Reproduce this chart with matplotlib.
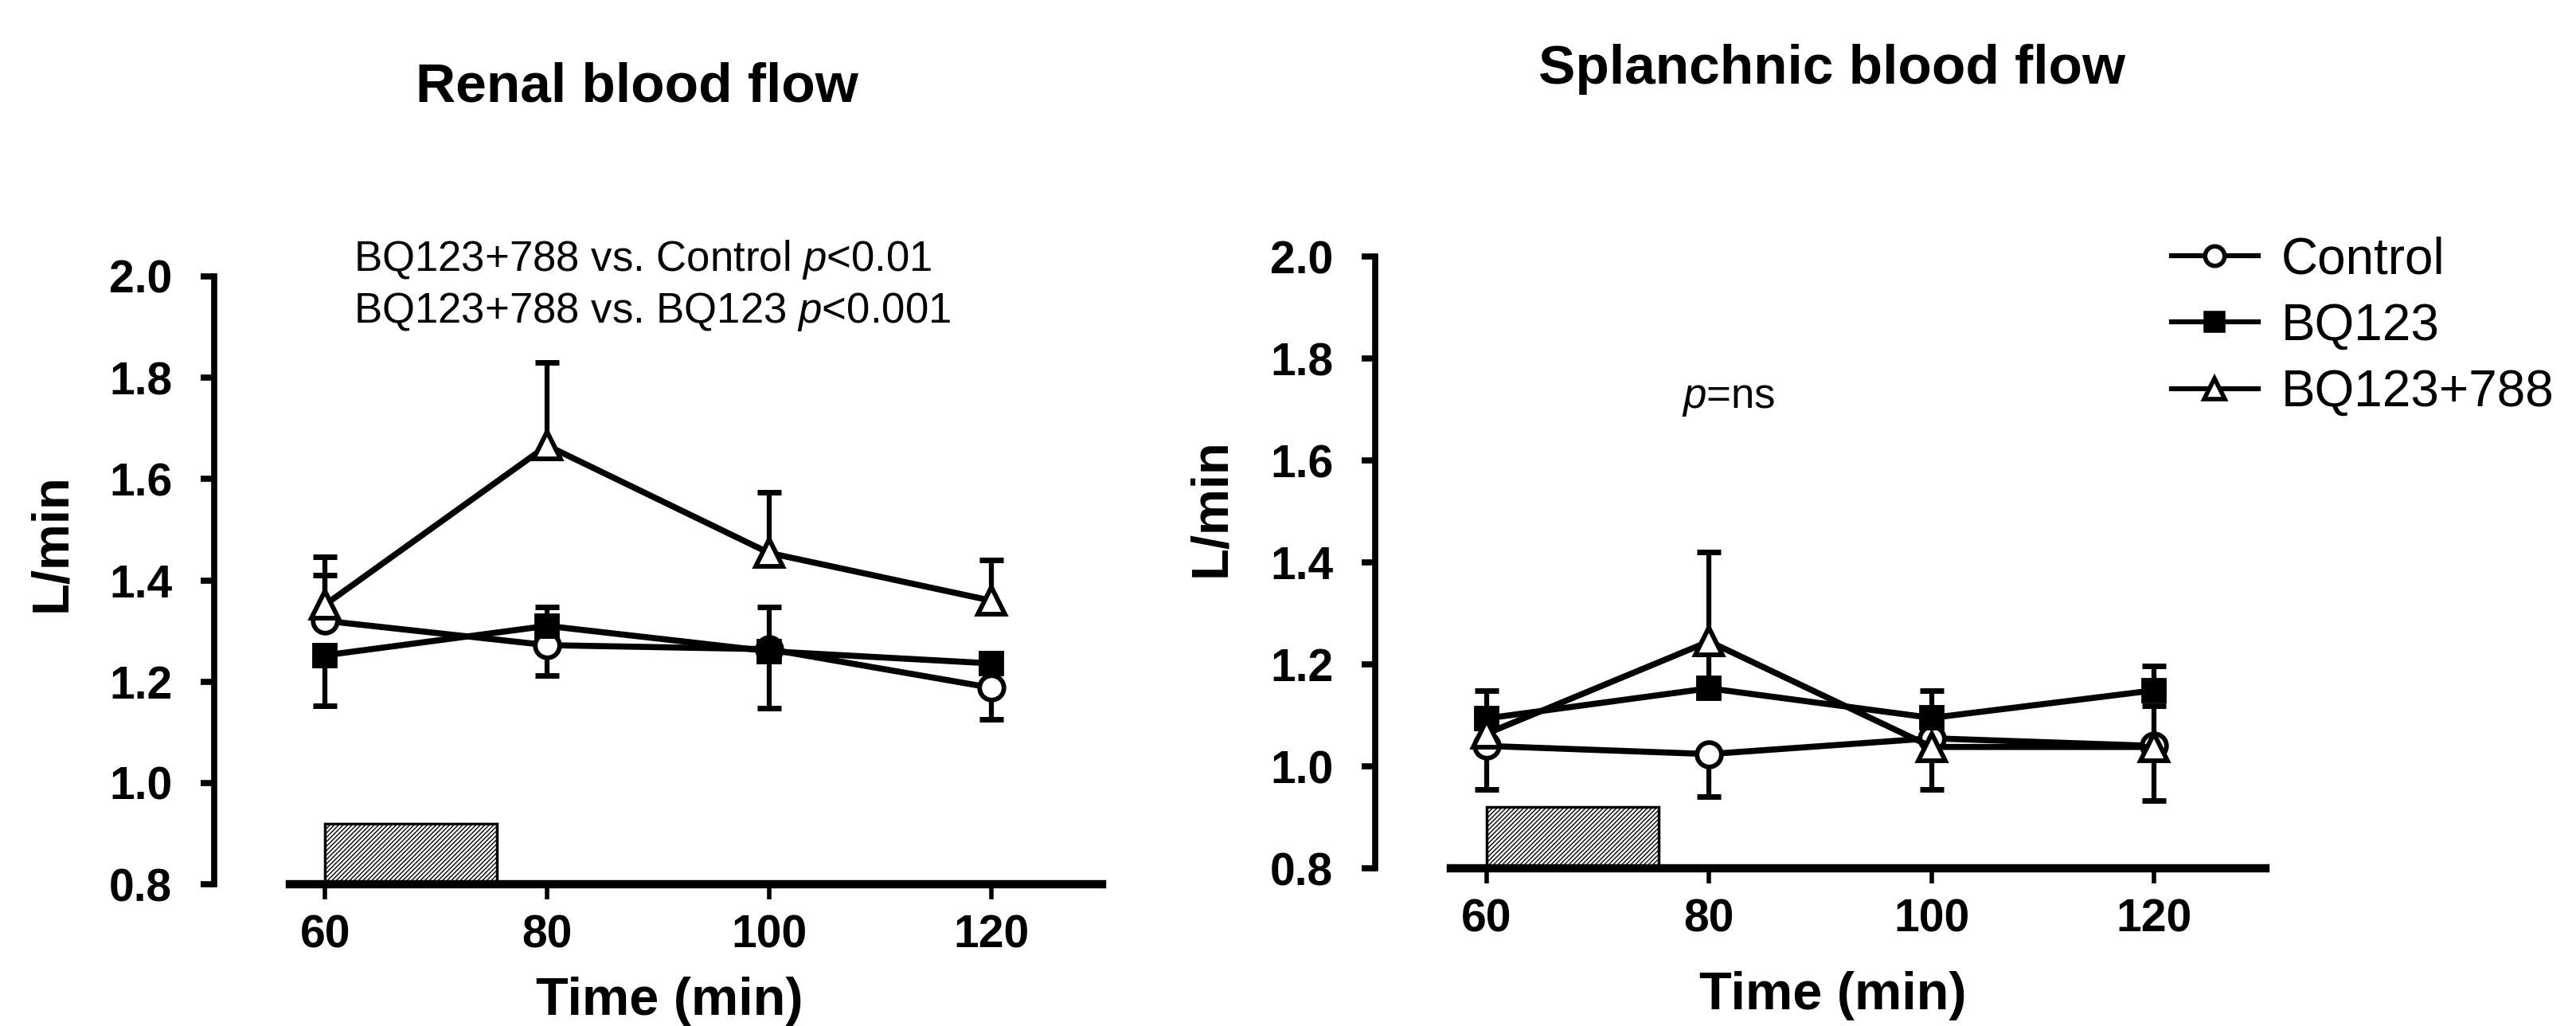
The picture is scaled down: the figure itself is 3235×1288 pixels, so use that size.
import matplotlib
matplotlib.use("Agg")
import matplotlib.pyplot as plt
from matplotlib.lines import Line2D
from matplotlib.patches import Rectangle
import numpy as np

plt.rcParams['font.family'] = ['Liberation Sans', 'DejaVu Sans']
plt.rcParams['mathtext.fontset'] = 'custom'
plt.rcParams['mathtext.rm'] = 'Liberation Sans'
plt.rcParams['mathtext.it'] = 'Liberation Sans:italic'
plt.rcParams['hatch.linewidth'] = 1.0

# time points (min)
time = [60, 80, 100, 120]
x_tick_labels = ['60', '80', '100', '120']
y_ticks = [0.8, 1.0, 1.2, 1.4, 1.6, 1.8, 2.0]
y_tick_labels = ['0.8', '1.0', '1.2', '1.4', '1.6', '1.8', '2.0']
groups = ['Control', 'BQ123', 'BQ123+788']

# infusion period (hatched box)
infusion = [60, 75.5]
infusion_top = 0.92

# Renal blood flow (L/min), mean and one-sided error
renal_ctrl = [1.32, 1.272, 1.264, 1.188]
renal_ctrl_lo = [0, 0.06, 0, 0.062]
renal_ctrl_hi = [0.09, 0, 0.084, 0]
renal_bq = [1.252, 1.31, 1.26, 1.236]
renal_bq_lo = [0.10, 0, 0.112, 0]
renal_bq_hi = [0, 0.038, 0, 0.02]
renal_comb = [1.352, 1.666, 1.454, 1.36]
renal_comb_lo = [0, 0, 0, 0]
renal_comb_hi = [0.094, 0.164, 0.12, 0.08]

# Splanchnic blood flow (L/min)
spl_ctrl = [1.04, 1.024, 1.055, 1.04]
spl_ctrl_lo = [0.085, 0.083, 0, 0]
spl_ctrl_hi = [0, 0, 0, 0.078]
spl_bq = [1.094, 1.153, 1.095, 1.149]
spl_bq_lo = [0, 0, 0, 0]
spl_bq_hi = [0.055, 0.068, 0.053, 0.048]
spl_comb = [1.064, 1.245, 1.038, 1.038]
spl_comb_lo = [0, 0, 0.083, 0.105]
spl_comb_hi = [0, 0.176, 0, 0]

W, H = 3235, 1288


def fx(px):
    return px / W


def fy(py):
    return 1 - py / H


styles = [
    dict(marker='o', mfc='white', ms=22),
    dict(marker='s', mfc='black', ms=19),
    dict(marker='^', mfc='white', ms=24),
]


def err_bars(ax, x, y, lo, hi):
    x = np.asarray(x, float)
    y = np.asarray(y, float)
    lo = np.asarray(lo, float)
    hi = np.asarray(hi, float)
    for mask, ends in [(hi > 0, y + hi), (lo > 0, y - lo)]:
        if mask.any():
            ax.vlines(x[mask], y[mask], ends[mask], color='k', lw=4.5, zorder=2)
            ax.plot(x[mask], ends[mask], ls='none', marker='_', ms=22, mew=5,
                    color='k', zorder=2)


def draw_panel(ax, series):
    box = Rectangle((infusion[0], y_ticks[0]), infusion[1] - infusion[0],
                    infusion_top - y_ticks[0], facecolor='white', edgecolor='k',
                    hatch='//////', lw=2.5, zorder=1)
    ax.add_patch(box)
    for (y, lo, hi), st in zip(series, styles):
        err_bars(ax, time, y, lo, hi)
        ax.plot(time, y, color='k', lw=5.5, mec='k', mew=4.2, zorder=3, **st)

    ax.set_xlim(50, 130)
    ax.set_ylim(0.8, 2.0)
    ax.spines['top'].set_visible(False)
    ax.spines['right'].set_visible(False)
    ax.spines['bottom'].set_linewidth(7.5)
    ax.spines['bottom'].set_bounds(56.8, 130)
    ax.spines['left'].set_linewidth(5.5)
    ax.spines['left'].set_bounds(0.8, 2.0)
    ax.set_xticks(time, labels=x_tick_labels, fontsize=41, fontweight='bold')
    ax.set_yticks(y_ticks, labels=y_tick_labels, fontsize=41, fontweight='bold')
    ax.tick_params(axis='x', direction='out', length=14, width=4, pad=13)
    ax.tick_params(axis='y', direction='out', length=12, width=5.5, pad=26)
    ax.patch.set_alpha(0)


fig = plt.figure(figsize=(W / 100, H / 100), dpi=100)

ax1 = fig.add_axes([fx(269), fy(1110), fx(1384) - fx(269), fy(347) - fy(1110)])
ax2 = fig.add_axes([fx(1727), fy(1090), fx(2845) - fx(1727), fy(322) - fy(1090)])

draw_panel(ax1, [(renal_ctrl, renal_ctrl_lo, renal_ctrl_hi),
                 (renal_bq, renal_bq_lo, renal_bq_hi),
                 (renal_comb, renal_comb_lo, renal_comb_hi)])
draw_panel(ax2, [(spl_ctrl, spl_ctrl_lo, spl_ctrl_hi),
                 (spl_bq, spl_bq_lo, spl_bq_hi),
                 (spl_comb, spl_comb_lo, spl_comb_hi)])

# titles
fig.text(fx(800), fy(127), 'Renal blood flow', ha='center', va='baseline',
         fontsize=50, fontweight='bold')
fig.text(fx(2300), fy(105), 'Splanchnic blood flow', ha='center', va='baseline',
         fontsize=50, fontweight='bold')

# axis labels
fig.text(fx(65), fy(681), 'L/min', rotation=90, ha='center', va='center',
         fontsize=47, fontweight='bold')
fig.text(fx(1521), fy(637), 'L/min', rotation=90, ha='center', va='center',
         fontsize=47, fontweight='bold')
fig.text(fx(841), fy(1274), 'Time (min)', ha='center', va='baseline',
         fontsize=48, fontweight='bold')
fig.text(fx(2302), fy(1267), 'Time (min)', ha='center', va='baseline',
         fontsize=48, fontweight='bold')

# statistics
fig.text(fx(444), fy(340), r'BQ123+788 vs. Control $\mathit{p}$<0.01',
         fontsize=38, va='baseline')
fig.text(fx(444), fy(405), r'BQ123+788 vs. BQ123 $\mathit{p}$<0.001',
         fontsize=38, va='baseline')
fig.text(fx(2112), fy(512), r'$\mathit{p}$=ns', fontsize=38, va='baseline')

# legend
handles = [Line2D([], [], color='k', lw=4.5, mec='k', mew=4,
                  marker=st['marker'], mfc=st['mfc'], ms=st['ms'] * 0.8)
           for st in styles]
fig.legend(handles, groups, loc='upper left', bbox_to_anchor=(fx(2727), fy(296)),
           frameon=False, fontsize=46, handlelength=1.7, handletextpad=0.45,
           labelspacing=0.37, borderpad=0, borderaxespad=0)

fig.savefig('out.png', dpi=100, facecolor='white')
